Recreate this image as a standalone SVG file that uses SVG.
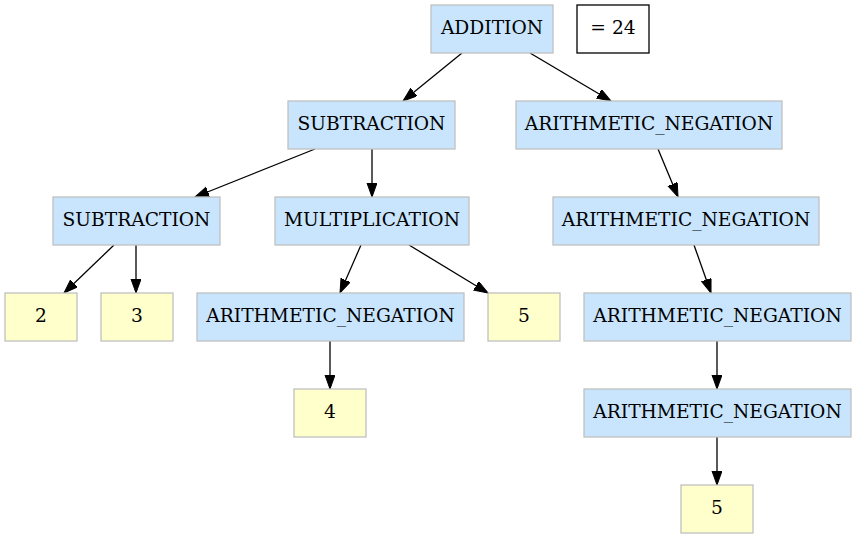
<svg xmlns="http://www.w3.org/2000/svg" width="856" height="539" viewBox="0 0 856 539">
<style>
.op rect{fill:#c8e5fd;stroke:#c0c0c0;stroke-width:1.3}
.lit rect{fill:#ffffcc;stroke:#c0c0c0;stroke-width:1.3}
.res rect{fill:#ffffff;stroke:#000000;stroke-width:1.3}
text{font-family:"DejaVu Serif",serif;font-size:18.67px;fill:#000;text-anchor:middle}
#edges line{stroke:#000;stroke-width:1.3;marker-end:url(#arr)}
</style>
<defs>
<marker id="arr" markerUnits="userSpaceOnUse" markerWidth="15" markerHeight="11" refX="14" refY="5" orient="auto">
<path d="M0,0 L14,5 L0,10 z" fill="#000" stroke="#000" stroke-width="1"/>
</marker>
</defs>
<rect width="856" height="539" fill="#fff"/>
<g id="edges">
<line x1="462" y1="53" x2="403" y2="101"/>
<line x1="530" y1="53" x2="611" y2="101"/>
<line x1="315" y1="149" x2="195" y2="197"/>
<line x1="372" y1="149" x2="372" y2="197"/>
<line x1="658" y1="149" x2="678" y2="197"/>
<line x1="114" y1="245" x2="64" y2="293"/>
<line x1="136" y1="245" x2="136" y2="293"/>
<line x1="361" y1="245" x2="340" y2="293"/>
<line x1="409" y1="245" x2="488" y2="293"/>
<line x1="694" y1="245" x2="711" y2="293"/>
<line x1="330" y1="341" x2="330" y2="389"/>
<line x1="717" y1="341" x2="717" y2="389"/>
<line x1="717" y1="437" x2="717" y2="485"/>
</g>
<g id="n_add" class="op"><rect x="431" y="5" width="122" height="48"/><text x="492" y="34">ADDITION</text></g>
<g id="n_result" class="res"><rect x="577" y="5" width="72" height="48"/><text x="613" y="34">= 24</text></g>
<g id="n_sub1" class="op"><rect x="288" y="101" width="167" height="48"/><text x="371.5" y="130">SUBTRACTION</text></g>
<g id="n_neg1" class="op"><rect x="516" y="101" width="266" height="48"/><text x="649" y="130">ARITHMETIC_NEGATION</text></g>
<g id="n_sub2" class="op"><rect x="53" y="197" width="167" height="48"/><text x="136.5" y="226">SUBTRACTION</text></g>
<g id="n_mul" class="op"><rect x="275" y="197" width="194" height="48"/><text x="372" y="226">MULTIPLICATION</text></g>
<g id="n_neg2" class="op"><rect x="553" y="197" width="266" height="48"/><text x="686" y="226">ARITHMETIC_NEGATION</text></g>
<g id="n_2" class="lit"><rect x="5" y="293" width="72" height="48"/><text x="41" y="322">2</text></g>
<g id="n_3" class="lit"><rect x="101" y="293" width="72" height="48"/><text x="137" y="322">3</text></g>
<g id="n_neg3" class="op"><rect x="197" y="293" width="267" height="48"/><text x="330.5" y="322">ARITHMETIC_NEGATION</text></g>
<g id="n_5a" class="lit"><rect x="488" y="293" width="72" height="48"/><text x="524" y="322">5</text></g>
<g id="n_neg4" class="op"><rect x="584" y="293" width="267" height="48"/><text x="717.5" y="322">ARITHMETIC_NEGATION</text></g>
<g id="n_4" class="lit"><rect x="294" y="389" width="72" height="48"/><text x="330" y="418">4</text></g>
<g id="n_neg5" class="op"><rect x="584" y="389" width="267" height="48"/><text x="717.5" y="418">ARITHMETIC_NEGATION</text></g>
<g id="n_5b" class="lit"><rect x="681" y="485" width="72" height="48"/><text x="717" y="514">5</text></g>
</svg>
